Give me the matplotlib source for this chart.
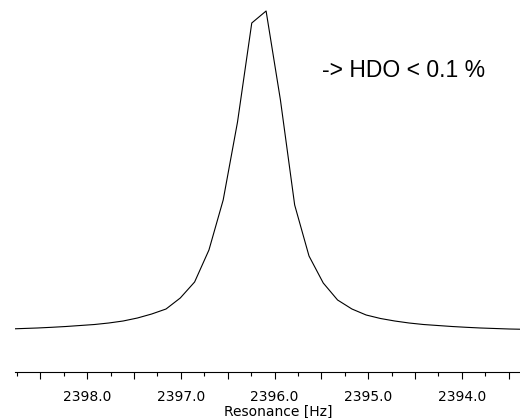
import matplotlib
matplotlib.use("Agg")
import matplotlib.pyplot as plt
from matplotlib.ticker import MultipleLocator, FuncFormatter

freq = [2398.837, 2398.684, 2398.532, 2398.379, 2398.226, 2398.074, 2397.921,
        2397.769, 2397.616, 2397.463, 2397.311, 2397.158, 2397.006, 2396.853,
        2396.700, 2396.548, 2396.395, 2396.243, 2396.090, 2395.937, 2395.785,
        2395.632, 2395.480, 2395.327, 2395.174, 2395.022, 2394.869, 2394.717,
        2394.564, 2394.411, 2394.259, 2394.106, 2393.954, 2393.801, 2393.648,
        2393.496, 2393.343]
intensity = [43, 43.5, 44, 44.7, 45.5, 46.5, 47.5, 49, 51, 54, 58, 63, 74, 90,
             122, 172, 250, 349, 361, 272, 167, 116, 89, 72, 63, 57, 53.5, 51,
             49, 47.5, 46.5, 45.5, 44.7, 44, 43.5, 43, 42.7]
annotation = "-> HDO < 0.1 %"
xlabel = "Resonance [Hz]"

fig = plt.figure(figsize=(5.2, 4.18), dpi=100)
ax = fig.add_axes([15/520, 1 - 372/418, 1 - 15/520, 372/418])
ax.plot(freq, intensity, color="black", lw=0.8, clip_on=True)
ax.set_xlim(2398.77, 2393.38)
ax.set_ylim(0, 372)

for s in ["left", "right", "top"]:
    ax.spines[s].set_visible(False)
ax.spines["bottom"].set_linewidth(0.8)
ax.set_yticks([])

ax.xaxis.set_major_locator(MultipleLocator(0.5))
ax.xaxis.set_minor_locator(MultipleLocator(0.25))
ax.xaxis.set_major_formatter(FuncFormatter(
    lambda v, p: f"{v:.1f}" if abs(v - round(v)) < 1e-6 else ""))
ax.tick_params(axis="x", which="major", length=5, width=0.8, direction="out",
               labelsize=10, pad=8)
ax.tick_params(axis="x", which="minor", length=3, width=0.8, direction="out")

fig.text(278/520, 1 - 416/418, xlabel, ha="center", va="baseline",
         fontsize=10, family="DejaVu Sans")
ax.text(322/520, 1 - 77/418, annotation, transform=fig.transFigure,
        ha="left", va="baseline", fontsize=16.5, family="Liberation Sans")

fig.savefig("out.png", dpi=100)
